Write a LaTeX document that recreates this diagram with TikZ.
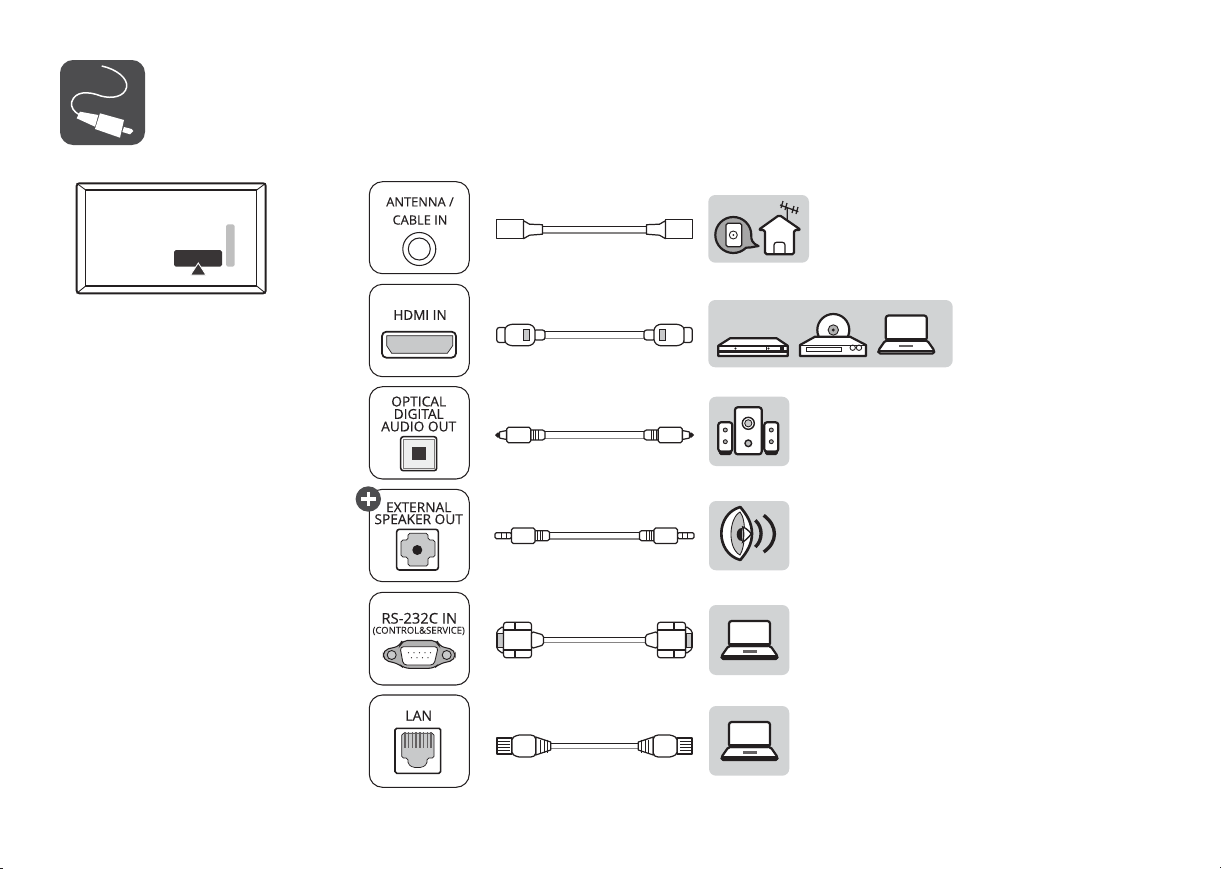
\documentclass[tikz,border=0pt]{standalone}
\usepackage{fontspec}
\setmainfont{Open Sans}
\newfontfamily\heavyfont{Open Sans}[FakeBold=0.35]
\newfontfamily\mediumfont{Open Sans}[FakeBold=0.15]
\definecolor{darkgray}{HTML}{4D4D4F}
\definecolor{inkblack}{HTML}{231F20}
\definecolor{panelgray}{HTML}{D1D3D4}
\definecolor{portgray}{HTML}{C8C9CA}
\tikzset{
	portbox/.style={draw=inkblack, line width=0.6pt, rounded corners=7.5pt},
	panel/.style={draw=none, fill=panelgray, rounded corners=4pt},
	portlabel/.style={text=inkblack, align=center, inner sep=0pt},
	plug/.style={draw=inkblack, fill=white, line width=0.7pt, line join=round},
	thickline/.style={draw=inkblack, line width=1.25pt, line join=round},
	cabletop/.style={draw=inkblack, line width=0.65pt},
	cablebottom/.style={draw=inkblack!55, line width=0.65pt},
	pics/laptop/.style={code={
		\draw[thickline, fill=white, rounded corners=1pt] (-28,-1) -- (-28,-4) -- (-21,-14) -- (21,-14) -- (28,-4) -- (28,-1) -- cycle;
		\draw[thickline] (-28,-3.5) -- (28,-3.5);
		\draw[thickline, fill=white, rounded corners=1.5pt] (-20.5,-39) rectangle (20.5,-14);
		\draw[draw=none, fill=inkblack] (-20.5,-17) rectangle (20.5,-13);
		\draw[draw=none, fill=inkblack!70] (-7,-10) rectangle (7,-7.5);
	}}
}
\begin{document}
\begin{tikzpicture}[x=0.02cm,y=-0.02cm]
	\useasboundingbox (0,0) rectangle (1221,869);

	% Page trim marks
	\draw[inkblack, line width=0.5pt] (0,868.5) -- (3,868.5)  (1220,867) -- (1221,867);

	% Cable badge
	\draw[draw=none, fill=darkgray, rounded corners=7.5pt] (60,60) rectangle (145,145);
	\draw[white, line width=0.85pt] (101.7,66) .. controls (116,69) and (128,78) .. (126.7,87) .. controls (124.5,97) and (112,99) .. (101,96) .. controls (88,91) and (75,91) .. (71.7,102) .. controls (70.5,107) and (74,112) .. (79,114.5);
	\fill[white] (80,111.7) -- (76.7,118.3) -- (95,126.7) -- (98.3,115) -- cycle;
	\fill[white] (100,113.3) -- (95,129) -- (120,137.7) -- (124,120) -- cycle;
	\fill[white] (124,127) -- (122.3,132) -- (130,134.3) -- (133.3,131) -- (131.7,129) -- cycle;

	% TV back outline
	\draw[inkblack, line width=1.1pt, rounded corners=1.5pt] (76.7,183.3) rectangle (265.7,293.3);
	\draw[inkblack, line width=0.6pt] (85.7,190) rectangle (256.7,286);
	\draw[inkblack, line width=0.5pt] (76.7,183.3) -- (85.7,190)  (265.7,183.3) -- (256.7,190)  (76.7,293.3) -- (85.7,286)  (265.7,293.3) -- (256.7,286);
	\draw[draw=none, fill=inkblack!90, rounded corners=1pt] (174,250) rectangle (222,266.7);
	\draw[draw=none, fill=gray!50, rounded corners=1pt] (226,224.3) rectangle (234.7,266.7);
	\draw[white, fill=inkblack!90, line width=0.5pt] (190.5,275) -- (206,275) -- (198.3,263) -- cycle;

	% Port boxes
	\draw[portbox] (369.3,181.7) rectangle (469.3,273.7);
	\draw[portbox] (369.3,284.3) rectangle (469.3,376.7);
	\draw[portbox] (369.3,386.7) rectangle (469.3,479);
	\draw[portbox] (369.3,489.3) rectangle (469.3,581.7);
	\draw[portbox] (369.3,592.3) rectangle (469.3,685);
	\draw[portbox] (369.3,695) rectangle (469.3,787.3);

	% Antenna port
	\node[portlabel, font=\mediumfont\fontsize{7.3}{10.3}\selectfont] (lblantenna) at (420,211) {ANTENNA /\\CABLE IN};
	\draw[inkblack, line width=0.6pt] (419.3,249) circle (16.5);
	\draw[inkblack, line width=0.6pt] (419.3,249) circle (11);

	% HDMI port
	\node[portlabel, font=\heavyfont\fontsize{7.7}{10}\selectfont] (lblhdmi) at (420,315) {HDMI IN};
	\draw[inkblack, line width=1pt, rounded corners=2.5pt] (382,331.7) rectangle (456,357.7);
	\draw[inkblack, fill=portgray, line width=0.4pt] (386.7,335.7) -- (452.7,335.7) -- (452.7,345.7) -- (447.3,353.3) -- (391.7,353.3) -- (386.7,345.7) -- cycle;

	% Optical port
	\node[portlabel, font=\heavyfont\fontsize{7.8}{7.1}\selectfont] (lbloptical) at (418.7,414) {OPTICAL\\DIGITAL\\AUDIO OUT};
	\draw[inkblack, line width=0.9pt, rounded corners=1.5pt] (400.7,436.7) rectangle (436.7,470.7);
	\draw[inkblack!60, fill=portgray!30, line width=0.5pt] (403.5,439.5) rectangle (434,468);
	\draw[draw=none, fill=inkblack!90] (412.3,446.7) rectangle (425.7,460);

	% External speaker port
	\draw[draw=none, fill=darkgray] (368.3,499) circle (12.7);
	\draw[white, line width=2pt] (361,499) -- (375.6,499)  (368.3,491.7) -- (368.3,506.3);
	\node[portlabel, font=\heavyfont\fontsize{7.8}{6.8}\selectfont] (lblspeaker) at (418.7,513.3) {EXTERNAL\\SPEAKER OUT};
	\draw[inkblack, line width=0.9pt, rounded corners=1.5pt] (396.7,529.3) rectangle (438.3,570);
	\draw[inkblack, fill=portgray, line width=0.4pt, rounded corners=1pt] (408,533.3) -- (428,533.3) -- (428,540) -- (435,540) -- (435,557) -- (428,557) -- (428,566) -- (408,566) -- (408,557) -- (401,557) -- (401,540) -- (408,540) -- cycle;
	\draw[draw=none, fill=inkblack] (417.3,550) circle (5);

	% RS-232C port
	\node[portlabel, font=\heavyfont\fontsize{8.4}{10}\selectfont] (lblrs) at (419.3,618.3) {RS-232C IN};
	\node[portlabel, font=\mediumfont\fontsize{5.4}{7}\selectfont] (lblcontrol) at (418.7,631) {(CONTROL\&SERVICE)};
	\draw[inkblack, fill=gray!60, line width=0.6pt, rounded corners=3pt] (383.3,650) -- (400,646) -- (402,640.5) -- (437,640.5) -- (439,646) -- (455,650) -- (455,660) -- (439,664) -- (434,668.3) -- (404,668.3) -- (399,664) -- (383.3,660) -- cycle;
	\draw[inkblack, fill=portgray, line width=0.5pt] (391.7,655) circle (4.5);
	\draw[inkblack, fill=portgray, line width=0.5pt] (446.7,655) circle (4.5);
	\draw[inkblack, fill=white, line width=0.5pt, rounded corners=2pt] (400,646.7) -- (438.3,646.7) -- (434,665) -- (403.3,665) -- cycle;
	\foreach \k in {0,...,4} \fill[inkblack] (408.5+\k*5.5,652.7) circle (0.6);
	\foreach \k in {0,...,3} \fill[inkblack] (411.5+\k*5.5,657.7) circle (0.6);

	% LAN port
	\node[portlabel, font=\heavyfont\fontsize{8}{10}\selectfont] (lbllan) at (418.7,715.7) {LAN};
	\draw[inkblack, line width=0.9pt, rounded corners=1pt] (395,728.3) rectangle (440.7,773.3);
	\draw[inkblack, fill=portgray, line width=0.4pt, rounded corners=1pt] (401.7,733.3) -- (434,733.3) -- (434,758) -- (427,758) -- (427,764) -- (422,767.5) -- (413,767.5) -- (408,764) -- (408,758) -- (401.7,758) -- cycle;
	\foreach \k in {0,...,7} \draw[inkblack!70, line width=0.8pt] (405+\k*3.7,732) -- (405+\k*3.7,748);

	% Cable antenna
	\draw[cabletop] (542,226.5) -- (647,226.5);
	\draw[cablebottom] (542,233) -- (647,233);
	\foreach \s in {-1,1} {
		\begin{scope}[shift={(594.5,229.7)}, xscale=\s]
			\draw[plug] (-97.8,-10) rectangle (-71,9);
			\draw[plug] (-71,-9) -- (-65,-5.5) -- (-52,-5) -- (-52,4.5) -- (-65,5.5) -- (-71,9) -- cycle;
		\end{scope}
	}

	% Cable hdmi
	\draw[cabletop] (544,331.7) -- (645,331.7);
	\draw[cablebottom] (544,338.3) -- (645,338.3);
	\foreach \s in {-1,1} {
		\begin{scope}[shift={(594.5,335)}, xscale=\s]
			\draw[plug, rounded corners=1.5pt] (-97.8,-7.5) rectangle (-88,7.5);
			\draw[plug, rounded corners=1.5pt] (-61,-5) rectangle (-49.5,5);
			\draw[plug, rounded corners=1.5pt] (-89.5,-8) -- (-84,-10.8) -- (-64,-10.8) -- (-59.5,-7) -- (-59.5,7) -- (-64,10.8) -- (-84,10.8) -- (-89.5,8) -- cycle;
			\draw[inkblack, fill=portgray, line width=0.4pt] (-71.2,-5.5) rectangle (-65.2,5.5);
		\end{scope}
	}

	% Cable optical
	\draw[cabletop] (545,431.7) -- (644,431.7);
	\draw[cablebottom] (545,438.3) -- (644,438.3);
	\foreach \s in {-1,1} {
		\begin{scope}[shift={(594.5,435)}, xscale=\s]
			\fill[inkblack] (-99.5,0) -- (-97,-2.5) -- (-94,-2.5) -- (-94,2.5) -- (-97,2.5) -- cycle;
			\draw[plug] (-95,-3) -- (-88,-4.5) -- (-88,4.5) -- (-95,3) -- cycle;
			\draw[plug] (-63.8,-5) -- (-52,-5) -- (-49.5,-3.5) -- (-49.5,3.5) -- (-52,5) -- (-63.8,5) -- cycle;
			\foreach \r in {-61.5,-59,-56.5} \draw[inkblack, line width=0.5pt] (\r,-5) -- (\r,5);
			\draw[plug, rounded corners=1pt] (-87.8,-7.8) rectangle (-63.8,7.8);
		\end{scope}
	}

	% Cable speaker
	\draw[cabletop] (549,532.4) -- (640,532.4);
	\draw[cablebottom] (549,539) -- (640,539);
	\foreach \s in {-1,1} {
		\begin{scope}[shift={(594.5,535.7)}, xscale=\s]
			\draw[plug, rounded corners=0.8pt] (-99.5,-3) rectangle (-83,3);
			\draw[inkblack, line width=0.6pt] (-93,-3) -- (-93,3)  (-88,-3) -- (-88,3);
			\draw[plug] (-59.5,-5) -- (-47,-5) -- (-45,-3.5) -- (-45,3.5) -- (-47,5) -- (-59.5,5) -- cycle;
			\foreach \r in {-57,-54.5,-52} \draw[inkblack, line width=0.5pt] (\r,-5) -- (\r,5);
			\draw[plug, rounded corners=1pt] (-83,-7.8) rectangle (-59.5,7.8);
		\end{scope}
	}

	% Cable rs232
	\draw[cabletop] (543,637.2) -- (646,637.2);
	\draw[cablebottom] (543,642.8) -- (646,642.8);
	\foreach \s in {-1,1} {
		\begin{scope}[shift={(594.5,640)}, xscale=\s]
			\draw[plug, rounded corners=1pt] (-97.8,-9) -- (-91,-14) -- (-91,14) -- (-97.8,9) -- cycle;
			\draw[inkblack, fill=portgray, line width=0.4pt] (-97.3,-7) rectangle (-91.5,7);
			\draw[plug, rounded corners=1.5pt] (-91,-17.7) rectangle (-63,17.7);
			\draw[inkblack, line width=0.7pt] (-91,-10) -- (-63,-10)  (-91,10) -- (-63,10)  (-79.5,-17.7) -- (-79.5,-10)  (-79.5,17.7) -- (-79.5,10);
			\draw[plug, rounded corners=1pt] (-63,-8.5) -- (-51,-5) -- (-51,5) -- (-63,8.5) -- cycle;
		\end{scope}
	}

	% Cable lan
	\draw[cabletop] (550,743.4) -- (639,743.4);
	\draw[cablebottom] (550,748.6) -- (639,748.6);
	\foreach \s in {-1,1} {
		\begin{scope}[shift={(594.5,746)}, xscale=\s]
			\draw[plug] (-97.5,-8) rectangle (-82.5,8);
			\foreach \r in {-4.8,-1.6,1.6,4.8} \draw[inkblack, line width=0.5pt] (-97.5,\r) -- (-85,\r);
			\draw[plug] (-58.8,-9) -- (-43.8,-4) -- (-43.8,4) -- (-58.8,9) -- cycle;
			\foreach \r in {-54,-50.5,-47} \draw[inkblack, line width=0.5pt] (\r,-6.5) -- (\r,6.5);
			\draw[plug, rounded corners=1pt] (-82.5,-8) -- (-77,-11) -- (-62,-11) -- (-58.8,-9) -- (-58.8,9) -- (-62,11) -- (-77,11) -- (-82.5,8) -- cycle;
		\end{scope}
	}

	% Device panels
	\draw[panel] (708.3,195) rectangle (809,262.7);
	\draw[panel] (708.3,300) rectangle (952.7,367.3);
	\draw[panel] (709,396.7) rectangle (789.3,466);
	\draw[panel] (709,501) rectangle (789.3,570.3);
	\draw[panel] (709,605) rectangle (789.3,675);
	\draw[panel] (709,706) rectangle (789.3,775.7);

	% Antenna wall and house
	\draw[thickline, fill=gray!70] (733.3,217) arc[start angle=-90, end angle=-360+45, radius=18] .. controls (750,248) and (752,247) .. (758.5,246) .. controls (752,243) and (751,240) .. (751.3,235) arc[start angle=0, end angle=-90, radius=18] -- cycle;
	\draw[inkblack, fill=white, line width=0.7pt, rounded corners=1pt] (726,223.3) rectangle (741.7,246.7);
	\draw[inkblack, line width=0.5pt] (733.3,235) circle (4);
	\fill[inkblack] (733.3,235) circle (1);
	\draw[inkblack, line width=0.7pt] (787.3,220) -- (787.3,208)  (780,205) -- (798.3,211.7)  (783,201) -- (781,208)  (787,203) -- (785,210)  (794,206) -- (792,213)  (798,207) -- (796,214);
	\draw[thickline, fill=white, rounded corners=1pt] (765,230) -- (758.3,230) -- (779.3,215) -- (801,230) -- (794,230) -- (794,254.3) -- (765,254.3) -- cycle;
	\draw[inkblack, line width=0.7pt, rounded corners=1.5pt] (774,254.3) -- (774,242.3) -- (785,242.3) -- (785,254.3);

	% Video recorder
	\draw[thickline, fill=white] (730,338.3) -- (776.7,338.3) -- (787.7,345.7) -- (787.7,356) -- (718.3,356) -- (718.3,345.7) -- cycle;
	\draw[thickline] (718.3,345.7) -- (787.7,345.7);
	\draw[thickline] (718.3,351.5) -- (787.7,351.5);
	\draw[inkblack, fill=inkblack] (741,346) rectangle (766,351);
	\draw[draw=none, fill=white] (741,347.3) rectangle (766,349.6);
	\fill[inkblack] (735.5,348.5) circle (1.1);
	\fill[inkblack] (768.5,348.5) circle (1.1);
	\draw[draw=none, fill=inkblack] (780,346) rectangle (783.5,351.5);

	% Disc player
	\draw[thickline, fill=white] (833.3,330) circle (16);
	\draw[inkblack, fill=gray!60, line width=0.5pt] (833.3,330) circle (5.2);
	\fill[inkblack] (833.3,330) circle (1.6);
	\draw[thickline, fill=white] (815,336.7) -- (850,336.7) -- (866,345) -- (866,356) -- (800,356) -- (800,345) -- cycle;
	\draw[inkblack, line width=0.5pt] (800,345) -- (866,345);
	\draw[inkblack, line width=0.5pt] (806,347.3) rectangle (841,351.7);
	\draw[inkblack, line width=0.5pt] (852.7,347.7) circle (2.7);
	\draw[inkblack, line width=0.5pt] (859,347.7) circle (2.7);

	% Laptops
	\pic at (906.3,354.5) {laptop};
	\pic at (749.5,660) {laptop};
	\pic at (749.5,761) {laptop};

	% Speaker set
	\draw[thickline, fill=white, rounded corners=1.5pt] (735,407.3) rectangle (761.7,454.3);
	\draw[inkblack, fill=white, line width=0.8pt] (748.3,423.3) circle (6);
	\draw[inkblack, fill=gray!40, line width=0.5pt] (748.3,423.3) circle (3.6);
	\draw[inkblack, fill=gray!50, line width=0.8pt] (748.3,443.3) circle (3.3);
	\foreach \cx in {725.3,771.3} {
		\draw[thickline, fill=white, rounded corners=1.5pt] (\cx-7,422.3) rectangle (\cx+7,451.7);
		\draw[inkblack, fill=gray!60, line width=0.5pt] (\cx,430) circle (2);
		\draw[inkblack, fill=gray!60, line width=0.5pt] (\cx,441.7) circle (2);
		\draw[draw=none, fill=inkblack, rounded corners=1pt] (\cx-6.5,450.5) rectangle (\cx+6.5,455);
	}

	% Speaker driver
	\draw[inkblack, fill=white, line width=1.5pt, line join=round] (740.3,507) .. controls (715,514) and (715,553) .. (740.3,560) .. controls (747,552) and (752,544) .. (752,533.7) .. controls (752,523) and (747,515) .. (740.3,507) -- cycle;
	\draw[inkblack, fill=gray!45, line width=0.5pt] (740,512) .. controls (729,518) and (727,548) .. (740,555) .. controls (745,548) and (747,520) .. (740,512) -- cycle;
	\draw[draw=none, fill=inkblack] (741.5,527.5) .. controls (735,527.5) and (735,541) .. (741.5,541) -- cycle;
	\draw[inkblack, fill=white, line width=0.8pt] (742.7,527) .. controls (746,528) and (749,531) .. (751.3,533.7) .. controls (749,537) and (746,540) .. (742.7,542) .. controls (744,537) and (744,532) .. (742.7,527) -- cycle;
	\draw[inkblack, line width=1.9pt] (755.3,520.3) .. controls (763,527) and (763,540) .. (755.3,547);
	\draw[inkblack, line width=1.9pt] (763.7,515.3) .. controls (778,526) and (778,542) .. (763.7,552);
\end{tikzpicture}
\end{document}
